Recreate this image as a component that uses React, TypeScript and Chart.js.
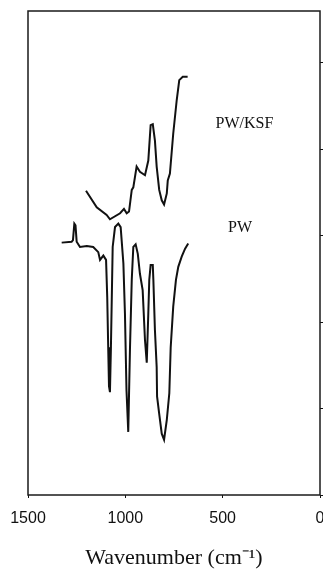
import React, { useEffect, useRef } from "react";
import { Chart, registerables } from "chart.js";

Chart.register(...registerables);

// PW/KSF spectrum (upper curve)
const pwKsfWavenumber = [1202, 1147, 1096, 1079, 1027, 1007, 993, 981, 967, 959, 942, 925, 899, 882, 870, 859, 848, 839, 826, 813, 801, 787, 782, 771, 754, 736, 723, 705, 680];
const pwKsfSignal = [3.52, 3.33, 3.24, 3.19, 3.26, 3.31, 3.26, 3.28, 3.53, 3.56, 3.8, 3.74, 3.7, 3.87, 4.28, 4.29, 4.1, 3.8, 3.53, 3.41, 3.36, 3.49, 3.64, 3.72, 4.18, 4.57, 4.8, 4.84, 4.84];

// PW spectrum (lower curve)
const pwWavenumber = [1327, 1276, 1269, 1262, 1256, 1250, 1233, 1198, 1165, 1139, 1130, 1113, 1099, 1093, 1088, 1084, 1079, 1074, 1065, 1053, 1036, 1024, 1010, 1002, 994, 985, 976, 967, 959, 947, 936, 925, 911, 899, 890, 882, 877, 870, 859, 856, 848, 839, 837, 826, 813, 801, 787, 774, 767, 754, 740, 728, 710, 693, 677];
const pwSignal = [2.92, 2.93, 2.95, 3.14, 3.12, 2.93, 2.87, 2.88, 2.87, 2.81, 2.72, 2.77, 2.72, 2.29, 1.71, 1.26, 1.19, 1.71, 2.87, 3.1, 3.14, 3.1, 2.68, 2.1, 1.21, 0.73, 1.71, 2.49, 2.87, 2.9, 2.79, 2.56, 2.37, 1.79, 1.53, 2.1, 2.49, 2.66, 2.66, 2.49, 1.91, 1.48, 1.14, 0.94, 0.71, 0.64, 0.87, 1.18, 1.71, 2.18, 2.49, 2.64, 2.76, 2.85, 2.91];

// Curve labels (in data coordinates)
const curveLabels = ["PW/KSF", "PW"];
const curveLabelX = [388, 411];
const curveLabelY = [4.25, 3.04];

const xTickValues = [1500, 1000, 500, 0];
const xTitle = "Wavenumber (cm⁻¹)";

function toPoints(xs: number[], ys: number[]) {
  return xs.map((x, i) => ({ x, y: ys[i] }));
}

const framePlugin = {
  id: "frameAndLabels",
  afterDraw(chart: any) {
    const { ctx, chartArea, scales } = chart;
    ctx.save();
    ctx.strokeStyle = "#1a1a1a";
    ctx.lineWidth = 1.5;
    ctx.strokeRect(chartArea.left, chartArea.top, chartArea.right - chartArea.left, chartArea.bottom - chartArea.top);
    ctx.fillStyle = "#111";
    ctx.font = "16px 'Liberation Serif', 'Times New Roman', serif";
    ctx.textAlign = "center";
    ctx.textBaseline = "alphabetic";
    curveLabels.forEach((t, i) => {
      ctx.fillText(t, scales.x.getPixelForValue(curveLabelX[i]), scales.y.getPixelForValue(curveLabelY[i]));
    });
    ctx.restore();
  },
};

export default function App() {
  const canvasRef = useRef<HTMLCanvasElement | null>(null);

  useEffect(() => {
    if (!canvasRef.current) return;
    const chart = new Chart(canvasRef.current, {
      type: "line",
      data: {
        datasets: [
          {
            label: "PW",
            data: toPoints(pwWavenumber, pwSignal),
            borderColor: "#111",
            borderWidth: 2,
            pointRadius: 0,
            tension: 0,
            fill: false,
          },
          {
            label: "PW/KSF",
            data: toPoints(pwKsfWavenumber, pwKsfSignal),
            borderColor: "#111",
            borderWidth: 2,
            pointRadius: 0,
            tension: 0,
            fill: false,
          },
        ],
      },
      options: {
        animation: false,
        responsive: false,
        layout: { padding: { left: 28, top: 11, right: 0, bottom: 0 } },
        plugins: { legend: { display: false }, tooltip: { enabled: false } },
        scales: {
          x: {
            type: "linear",
            reverse: true,
            min: 0,
            max: 1500,
            afterBuildTicks: (scale: any) => {
              scale.ticks = xTickValues.map((v) => ({ value: v }));
            },
            ticks: {
              stepSize: 500,
              color: "#111",
              padding: 11,
              maxRotation: 0,
              callback: (v: any) => String(v),
              font: { family: "'Liberation Sans', Arial, sans-serif", size: 16 },
            },
            grid: { drawOnChartArea: false, drawTicks: true, tickLength: 3, color: "#111" },
            border: { display: false },
            title: {
              display: true,
              text: xTitle,
              color: "#111",
              padding: { top: 0, bottom: 0 },
              font: { family: "'Liberation Serif', 'Times New Roman', serif", size: 22, lineHeight: 1.2 },
            },
            afterFit: (scale: any) => {
              scale.height = 76;
              scale.paddingLeft = 0;
              scale.paddingRight = 0;
            },
          },
          y: {
            type: "linear",
            position: "right",
            min: 0,
            max: 5.6,
            ticks: { display: false, stepSize: 1, includeBounds: false },
            grid: { drawOnChartArea: false, drawTicks: true, tickLength: 3, color: "#111" },
            border: { display: false },
            afterFit: (scale: any) => {
              scale.width = 3;
              scale.paddingTop = 0;
              scale.paddingBottom = 0;
            },
          },
        },
      },
      plugins: [framePlugin],
    });
    return () => chart.destroy();
  }, []);

  return (
    <div style={{ position: "absolute", left: 0, top: 0, width: 323, height: 571, background: "#fff" }}>
      <canvas ref={canvasRef} width={323} height={571} style={{ display: "block", width: 323, height: 571 }} />
    </div>
  );
}
